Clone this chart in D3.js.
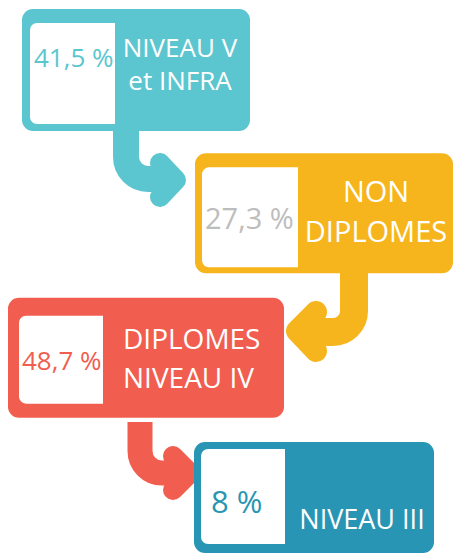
<html>
  <head>
    <style>
      body { margin: 0; background: #fff; }
      text { font-family: "Open Sans", "Noto Sans", sans-serif; }
    </style>
  </head>
  <body>
    <script src="https://cdnjs.cloudflare.com/ajax/libs/d3/7.8.5/d3.min.js"></script>
    <script>
    var width = 454, height = 555;

    // data
    var levels = ["NIVEAU V et INFRA", "NON DIPLOMES", "DIPLOMES NIVEAU IV", "NIVEAU III"];
    var labelLines = [["NIVEAU V", "et INFRA"], ["NON", "DIPLOMES"], ["DIPLOMES", "NIVEAU IV"], ["NIVEAU III"]];
    var shares = [41.5, 27.3, 48.7, 8];

    // styles
    var boxColors = ["#5bc6cf", "#f6b51d", "#f15d4e", "#2895b4"];
    var valueColors = ["#5bc6cf", "#bdbdbd", "#f15d4e", "#2895b4"];

    // layout of each box (x range, height, white panel insets, text placement)
    var layout = [
      { x0: 22, x1: 250, h: 122, inL: 8, inT: 14, inB: 7, inW: 85,
        pct: { x: 34, y: 67, size: 26 }, lab: { x: 180, anchor: "middle", ys: [57, 90], size: 26 } },
      { x0: 195, x1: 453, h: 120, inL: 7, inT: 14, inB: 6, inW: 96,
        pct: { x: 205, y: 229, size: 29 }, lab: { x: 376, anchor: "middle", ys: [202, 242], size: 29 } },
      { x0: 8, x1: 284, h: 120, inL: 11, inT: 18, inB: 14, inW: 84,
        pct: { x: 22, y: 370, size: 26 }, lab: { x: 123, anchor: "start", ys: [349, 388], size: 28 } },
      { x0: 194, x1: 434, h: 111, inL: 7, inT: 7, inB: 9, inW: 84,
        pct: { x: 211, y: 513, size: 31 }, lab: { x: 362, anchor: "middle", ys: [529], size: 27 } }
    ];

    // connecting arrows (stem, bend, chevron head)
    var arrows = [
      { sx: 126, sy: 128, ey: 179, ex: 172, r: 22, w: 26, head: [[160, 163], [176, 180], [160, 197]], hw: 20 },
      { sx: 354, sy: 273, ey: 332, ex: 300, r: 21, w: 28, head: [[316, 312], [297, 331], [316, 351]], hw: 22 },
      { sx: 140, sy: 422, ey: 473, ex: 186, r: 22, w: 25, head: [[173, 456], [190, 473], [173, 490]], hw: 20 }
    ];

    var y = d3.scalePoint()
        .domain(levels)
        .range([9, 442]);

    var locale = d3.formatLocale({ decimal: ",", thousands: " ", grouping: [3], currency: ["", " €"] });
    var fmt = locale.format(".1~f");

    var svg = d3.select("body")
        .append("svg")
        .attr("width", width)
        .attr("height", height);

    var boxes = levels.map(function(d, i) {
      return { level: d, lines: labelLines[i], share: shares[i], color: boxColors[i], vcolor: valueColors[i], L: layout[i] };
    });

    // arrows first so the boxes sit on top
    var line = d3.line();
    arrows.forEach(function(a, i) {
      var dir = a.ex > a.sx ? 1 : -1;
      var path = d3.path();
      path.moveTo(a.sx, a.sy);
      path.lineTo(a.sx, a.ey - a.r);
      path.arcTo(a.sx, a.ey, a.sx + dir * a.r, a.ey, a.r);
      path.lineTo(a.ex, a.ey);
      svg.append("path")
          .attr("d", path.toString())
          .attr("fill", "none")
          .attr("stroke", boxColors[i])
          .attr("stroke-width", a.w);
      svg.append("path")
          .attr("d", line(a.head))
          .attr("fill", "none")
          .attr("stroke", boxColors[i])
          .attr("stroke-width", a.hw)
          .attr("stroke-linecap", "round")
          .attr("stroke-linejoin", "round");
    });

    var g = svg.selectAll("g.box")
        .data(boxes)
        .enter().append("g")
          .attr("class", "box");

    g.append("rect")
        .attr("x", function(d) { return d.L.x0; })
        .attr("y", function(d) { return y(d.level); })
        .attr("width", function(d) { return d.L.x1 - d.L.x0; })
        .attr("height", function(d) { return d.L.h; })
        .attr("rx", 11)
        .attr("fill", function(d) { return d.color; });

    // white panel, rounded on the left side only
    g.append("path")
        .attr("fill", "#fff")
        .attr("d", function(d) {
          var x0 = d.L.x0 + d.L.inL, x1 = x0 + d.L.inW,
              y0 = y(d.level) + d.L.inT, y1 = y(d.level) + d.L.h - d.L.inB, r = 7;
          var p = d3.path();
          p.moveTo(x1, y0);
          p.lineTo(x0 + r, y0);
          p.arcTo(x0, y0, x0, y0 + r, r);
          p.lineTo(x0, y1 - r);
          p.arcTo(x0, y1, x0 + r, y1, r);
          p.lineTo(x1, y1);
          p.closePath();
          return p.toString();
        });

    g.append("text")
        .attr("x", function(d) { return d.L.pct.x; })
        .attr("y", function(d) { return d.L.pct.y; })
        .style("font-size", function(d) { return d.L.pct.size + "px"; })
        .attr("fill", function(d) { return d.vcolor; })
        .text(function(d) { return fmt(d.share) + " %"; });

    g.each(function(d) {
      d3.select(this).selectAll("text.lab")
          .data(d.lines)
          .enter().append("text")
            .attr("class", "lab")
            .attr("x", d.L.lab.x)
            .attr("y", function(t, j) { return d.L.lab.ys[j]; })
            .attr("text-anchor", d.L.lab.anchor)
            .style("font-size", d.L.lab.size + "px")
            .attr("fill", "#fff")
            .text(function(t) { return t; });
    });
    </script>
  </body>
</html>
